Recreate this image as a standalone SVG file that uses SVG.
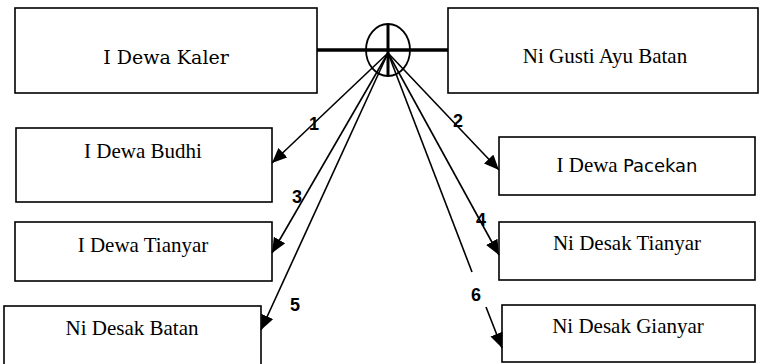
<svg xmlns="http://www.w3.org/2000/svg" width="760" height="364" viewBox="0 0 760 364">
<style>
.box{fill:#fff;stroke:#000;stroke-width:1.6}
.t{font-family:"Liberation Serif","Times New Roman",serif;font-size:21px;fill:#000;text-anchor:middle}
.k{font-family:"DejaVu Serif",serif;font-size:19px;fill:#000;text-anchor:middle}
.c{font-family:"Comic Sans MS","DejaVu Sans",sans-serif;font-size:18px}
.n{font-family:"Liberation Sans",Arial,sans-serif;font-size:18px;font-weight:bold;fill:#000;text-anchor:middle}
.ln{stroke:#000;stroke-width:1.6;fill:none}
.ar{marker-end:url(#ah)}
</style>
<defs>
<marker id="ah" markerUnits="userSpaceOnUse" markerWidth="16" markerHeight="14" refX="15" refY="6.5" orient="auto">
<path d="M0,0 L15,6.5 L0,13 Z" fill="#000"/>
</marker>
</defs>
<g id="node-kaler"><rect class="box" x="15" y="8" width="302" height="85"/><text class="k" x="166" y="64">I Dewa Kaler</text></g>
<g id="node-batan-gusti"><rect class="box" x="448" y="8" width="310" height="85"/><text class="t" x="605" y="63">Ni Gusti Ayu Batan</text></g>
<g id="node-budhi"><rect class="box" x="16" y="128" width="256" height="74"/><text class="t" x="143" y="158">I Dewa Budhi</text></g>
<g id="node-tianyar"><rect class="box" x="15" y="222" width="257" height="59"/><text class="t" x="143" y="252">I Dewa Tianyar</text></g>
<g id="node-desak-batan"><rect class="box" x="4" y="306" width="257" height="70"/><text class="t" x="132" y="335">Ni Desak Batan</text></g>
<g id="node-pacekan"><rect class="box" x="499" y="137" width="256" height="58"/><text class="t" x="627" y="172">I Dewa <tspan class="c">Pacekan</tspan></text></g>
<g id="node-desak-tianyar"><rect class="box" x="499" y="222" width="256" height="58"/><text class="t" x="627" y="250">Ni Desak Tianyar</text></g>
<g id="node-gianyar"><rect class="box" x="502" y="305" width="253" height="57"/><text class="t" x="628" y="333">Ni Desak Gianyar</text></g>
<g id="connectors">
<line x1="317" y1="50" x2="448" y2="50" stroke="#000" stroke-width="3.5"/>
<ellipse cx="388" cy="50" rx="22" ry="26" fill="none" stroke="#000" stroke-width="1.8"/>
<line x1="388" y1="24" x2="388" y2="76" stroke="#000" stroke-width="3"/>
<line class="ln ar" x1="388" y1="53" x2="272" y2="163"/>
<line class="ln ar" x1="388" y1="53" x2="499" y2="170"/>
<line class="ln ar" x1="388" y1="53" x2="272" y2="253"/>
<line class="ln ar" x1="388" y1="53" x2="499" y2="255"/>
<line class="ln ar" x1="388" y1="53" x2="261" y2="330"/>
<line class="ln" x1="388" y1="53" x2="472" y2="272"/>
<line class="ln ar" x1="486" y1="307" x2="502" y2="348"/>
<text class="n" x="314" y="130">1</text>
<text class="n" x="458" y="127">2</text>
<text class="n" x="297" y="203">3</text>
<text class="n" x="481" y="226">4</text>
<text class="n" x="295" y="311">5</text>
<text class="n" x="476" y="301">6</text>
</g>
</svg>
